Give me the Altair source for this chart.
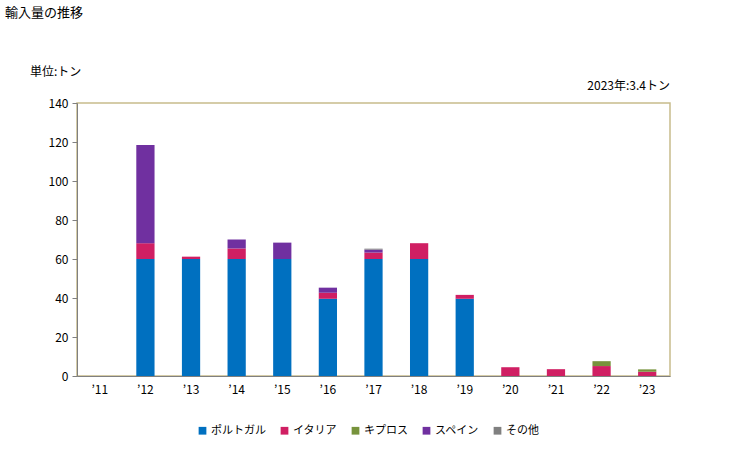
import altair as alt
import pandas as pd

years = ["’11", "’12", "’13", "’14", "’15", "’16", "’17", "’18", "’19", "’20", "’21", "’22", "’23"]
series = ["ポルトガル", "イタリア", "キプロス", "スペイン", "その他"]
colors = ["#0070C0", "#D01F63", "#77933C", "#7030A0", "#808080"]

portugal = [0, 60, 60, 60, 60, 39.6, 60, 60, 39.6, 0, 0, 0, 0]
italy    = [0, 8.1, 1.2, 5.4, 0, 3.1, 3.3, 8.1, 2.0, 4.5, 3.5, 5.1, 2.2]
cyprus   = [0, 0, 0, 0, 0, 0, 0, 0, 0, 0, 0, 2.5, 1.2]
spain    = [0, 50.3, 0, 4.6, 8.4, 2.6, 1.5, 0, 0, 0, 0, 0, 0]
other    = [0, 0, 0, 0, 0, 0, 0.5, 0, 0, 0, 0, 0, 0]

rows = []
for vals, name in zip([portugal, italy, cyprus, spain, other], series):
    for y, v in zip(years, vals):
        rows.append({"year": y, "series": name, "value": v, "order": series.index(name)})
df = pd.DataFrame(rows)

FONT = "Noto Sans CJK JP"

bars = alt.Chart(df).mark_bar().encode(
    x=alt.X("year:N", sort=years, title=None,
            scale=alt.Scale(paddingInner=0.6, paddingOuter=0.3),
            axis=alt.Axis(labelAngle=0, ticks=False, labelPadding=8, domainColor="#808080",
                          labelFont=FONT, labelFontSize=12, labelColor="#000000")),
    y=alt.Y("value:Q", stack="zero", title=None,
            scale=alt.Scale(domain=[0, 140], nice=False),
            axis=alt.Axis(values=[0, 20, 40, 60, 80, 100, 120, 140], grid=False,
                          tickColor="#808080", domainColor="#808080", tickSize=5,
                          labelFont=FONT, labelFontSize=12, labelColor="#000000", labelPadding=4)),
    color=alt.Color("series:N", sort=series,
                    scale=alt.Scale(domain=series, range=colors),
                    legend=alt.Legend(title=None, orient="none", direction="horizontal",
                                      legendX=120, legendY=322, symbolType="square",
                                      symbolSize=60, symbolStrokeWidth=0,
                                      labelFont=FONT, labelFontSize=11, labelColor="#000000",
                                      columnPadding=13, labelOffset=3)),
    order=alt.Order("order:Q", sort="ascending"),
)

title_df = pd.DataFrame({"t": ["輸入量の推移"]})
title = alt.Chart(title_df).mark_text(align="left", baseline="middle", font=FONT, fontSize=13,
                                      color="#000000").encode(
    text="t:N", x=alt.value(-72), y=alt.value(-90))

unit_df = pd.DataFrame({"t": ["単位:トン"]})
unit = alt.Chart(unit_df).mark_text(align="left", baseline="middle", font=FONT, fontSize=12,
                                    color="#000000").encode(
    text="t:N", x=alt.value(-47), y=alt.value(-31))

note_df = pd.DataFrame({"t": ["2023年:3.4トン"]})
note = alt.Chart(note_df).mark_text(align="right", baseline="middle", font=FONT, fontSize=12,
                                    color="#000000").encode(
    text="t:N", x=alt.value(593), y=alt.value(-17))

chart = alt.layer(bars, title, unit, note).properties(
    width=593, height=273,
    autosize=alt.AutoSizeParams(type="none"),
    padding={"left": 77, "top": 103, "right": 59, "bottom": 74},
    background="#FFFFFF",
).configure_view(stroke="#C8BC8C", strokeWidth=1.5)

chart.save("out.html", embed_options={"renderer": "svg", "actions": False})
